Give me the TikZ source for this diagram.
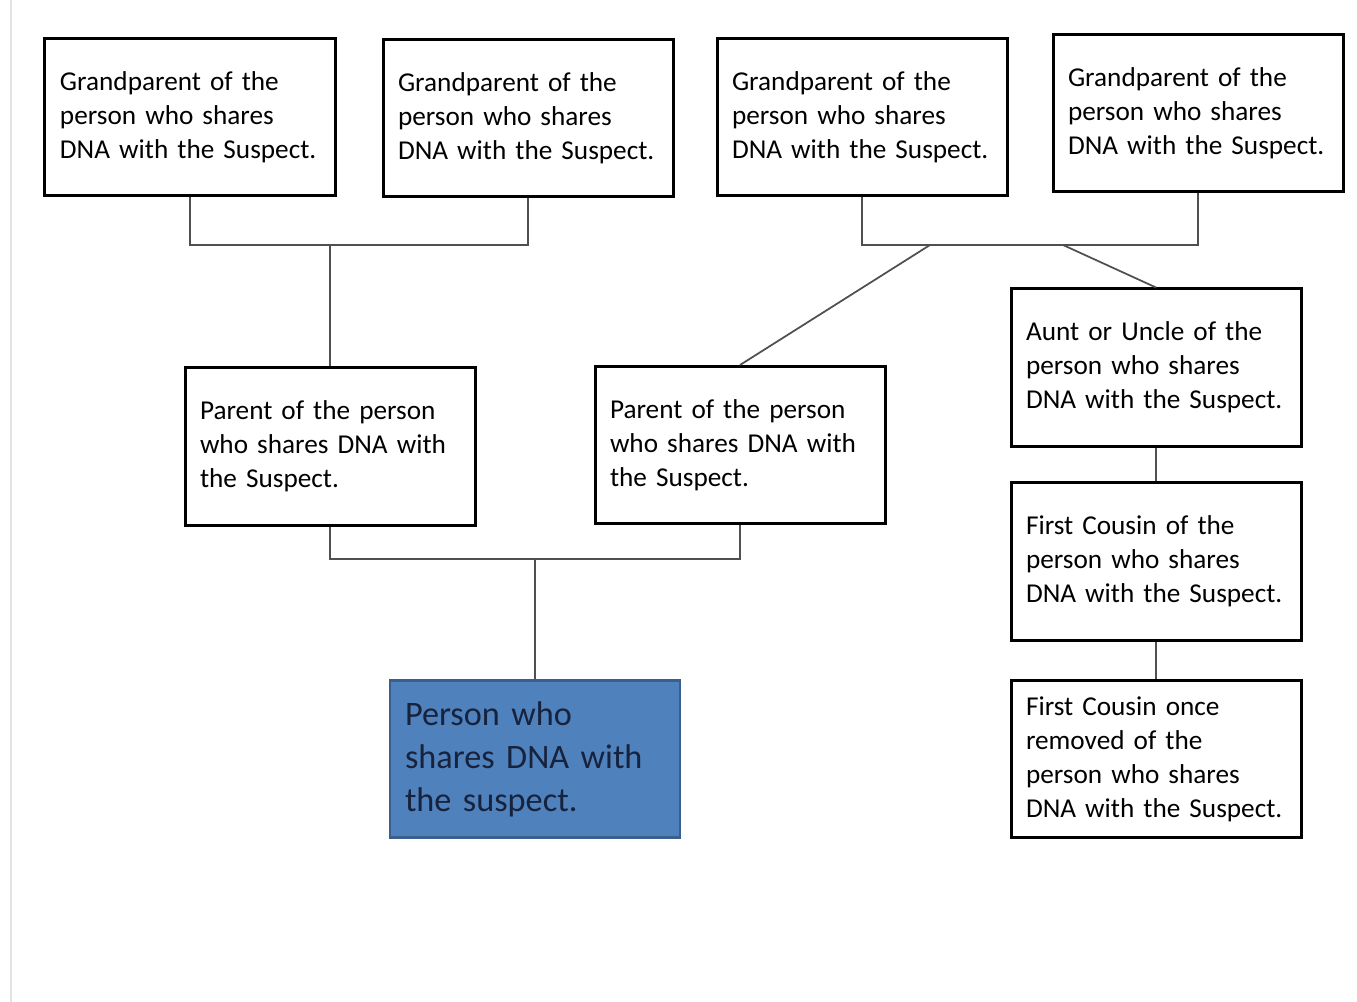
\documentclass[tikz,border=0pt]{standalone}
\usepackage{fontspec}
\setmainfont{Carlito}
\usetikzlibrary{positioning}

\definecolor{linkgray}{HTML}{505050}
\definecolor{personblue}{HTML}{4F81BD}
\definecolor{personedge}{HTML}{3A5F8F}
\definecolor{persontext}{HTML}{17233D}

\begin{document}
\begin{tikzpicture}[
  x=0.2mm, y=-0.2mm,
  every node/.style = {font=\fontsize{15.5}{19.4}\selectfont},
  relative/.style = {draw, line width=0.6mm, minimum width=58mm,
                     minimum height=31.4mm, text width=52mm,
                     inner xsep=3mm, align=left},
  subject/.style  = {relative, draw=personedge, line width=0.45mm,
                     fill=personblue, text=persontext,
                     font=\fontsize{19.5}{24.5}\selectfont},
  link/.style     = {draw=linkgray, line width=0.35mm},
]

%% ── Frame: page size and faint scan edge ────────────────────────────────────
\useasboundingbox (0,0) rectangle (1357,1002);
\draw[gray!22, line width=0.5mm] (11,0) -- (11,1002);

%% ── Grandparents ─────────────────────────────────────────────────────────────
\node[relative] (gpA) at (190,117)
  {Grandparent of the\\person who shares\\DNA with the Suspect.};
\node[relative] (gpB) at (528,118)
  {Grandparent of the\\person who shares\\DNA with the Suspect.};
\node[relative] (gpC) at (862,117)
  {Grandparent of the\\person who shares\\DNA with the Suspect.};
\node[relative] (gpD) at (1198,113.5)
  {Grandparent of the\\person who shares\\DNA with the Suspect.};

%% ── Parents, aunt/uncle, cousins ─────────────────────────────────────────────
\node[relative] (parA) at (330,446.5)
  {Parent of the person\\who shares DNA with\\the Suspect.};
\node[relative] (parB) at (740,445)
  {Parent of the person\\who shares DNA with\\the Suspect.};
\node[relative] (aunt) at (1156,367.5)
  {Aunt or Uncle of the\\person who shares\\DNA with the Suspect.};
\node[relative] (cousin) at (1156,561.5)
  {First Cousin of the\\person who shares\\DNA with the Suspect.};
\node[relative] (cousinOR) at (1156,759)
  {First Cousin once\\removed of the\\person who shares\\DNA with the Suspect.};

%% ── Person who shares DNA ────────────────────────────────────────────────────
\node[subject] (person) at (535,759)
  {Person who\\shares DNA with\\the suspect.};

%% ── Junctions ────────────────────────────────────────────────────────────────
\coordinate (jA) at (330,245);   % left grandparents
\coordinate (jC) at (930,245);   % right grandparents -> parent
\coordinate (jD) at (1063,245);  % right grandparents -> aunt/uncle
\coordinate (jB) at (535,559);   % parents

%% ── Connectors ───────────────────────────────────────────────────────────────
\draw[link] (gpA.south) |- (gpB.south |- jA) -- (gpB.south);
\draw[link] (jA) -- (parA.north);
\draw[link] (gpC.south) |- (gpD.south |- jC) -- (gpD.south);
\draw[link] (jC) -- (parB.north);
\draw[link] (jD) -- (aunt.north);
\draw[link] (parA.south) |- (parB.south |- jB) -- (parB.south);
\draw[link] (jB) -- (person.north);
\draw[link] (aunt.south) -- (cousin.north);
\draw[link] (cousin.south) -- (cousinOR.north);

\end{tikzpicture}
\end{document}
